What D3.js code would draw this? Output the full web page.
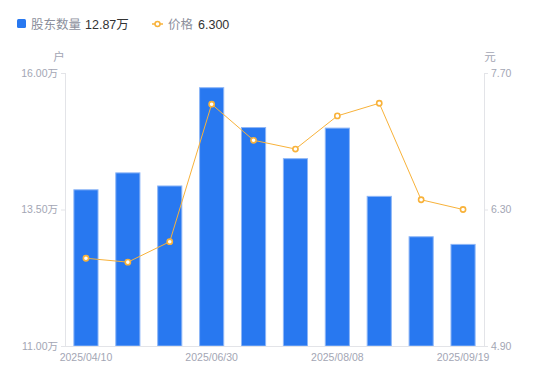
<!DOCTYPE html>
<html>
<head>
<meta charset="utf-8">
<script src="https://cdn.jsdelivr.net/npm/d3@7"></script>
<style>
  body { margin: 0; background: #fff; font-family: "Liberation Sans", "Noto Sans CJK SC", sans-serif; }
  .axis text { fill: #a3a6b4; font-size: 10.5px; font-family: "Liberation Sans", "Noto Sans CJK SC", sans-serif; }
  .axis path, .axis line { stroke: #e3e4e8; }
</style>
</head>
<body>
<div id="chart"></div>
<script>
const dates = ["2025/04/10", "2025/04/30", "2025/05/20", "2025/06/30", "2025/07/10",
               "2025/07/20", "2025/08/08", "2025/08/20", "2025/08/31", "2025/09/19"];
const holders = [13.87, 14.18, 13.94, 15.74, 15.01, 14.44, 15.00, 13.75, 13.01, 12.87]; // 万户
const prices = [5.80, 5.76, 5.97, 7.38, 7.01, 6.92, 7.26, 7.39, 6.40, 6.30];
const leftTicks = [11, 13.5, 16];
const rightTicks = [4.9, 6.3, 7.7];
const shownDates = ["2025/04/10", "2025/06/30", "2025/08/08", "2025/09/19"];

const W = 550, H = 381;
const margin = { top: 73, right: 66, bottom: 35, left: 65 };
const width = W - margin.left - margin.right;
const height = H - margin.top - margin.bottom;

const root = d3.select("#chart").append("svg")
    .attr("width", W)
    .attr("height", H)
    .attr("font-family", "Liberation Sans, Noto Sans CJK SC, sans-serif");

// legend
const legend = root.append("g").attr("font-size", 12.5);
legend.append("rect")
    .attr("x", 17).attr("y", 19).attr("width", 9).attr("height", 9).attr("rx", 1.5)
    .attr("fill", "#2878f0");
legend.append("text").attr("x", 31).attr("y", 28.5).attr("fill", "#8c8f9c").text("股东数量");
legend.append("text").attr("x", 85).attr("y", 28.5).attr("fill", "#333").text(holders[holders.length - 1].toFixed(2) + "万");
legend.append("line")
    .attr("x1", 152).attr("x2", 163).attr("y1", 24).attr("y2", 24)
    .attr("stroke", "#f8b23a").attr("stroke-width", 1.5);
legend.append("circle")
    .attr("cx", 157.5).attr("cy", 24).attr("r", 2.5)
    .attr("fill", "#fff").attr("stroke", "#f8b23a").attr("stroke-width", 1.5);
legend.append("text").attr("x", 168).attr("y", 28.5).attr("fill", "#8c8f9c").text("价格");
legend.append("text").attr("x", 198).attr("y", 28.5).attr("fill", "#333").text(prices[prices.length - 1].toFixed(3));

const svg = root.append("g")
    .attr("transform", `translate(${margin.left},${margin.top})`);

const x = d3.scaleBand()
    .domain(dates)
    .range([0, width])
    .paddingInner(0.4)
    .paddingOuter(0.2);

const yL = d3.scaleLinear().domain([11, 16]).range([height, 0]);
const yR = d3.scaleLinear().domain([4.9, 7.7]).range([height, 0]);

// bars
svg.selectAll(".bar")
    .data(dates)
    .enter()
    .append("rect")
    .attr("class", "bar")
    .attr("x", (d, i) => x(d) + 0.5)
    .attr("y", (d, i) => yL(holders[i]) + 0.5)
    .attr("width", x.bandwidth() - 1)
    .attr("height", (d, i) => height - yL(holders[i]) - 0.5)
    .attr("fill", "#2878f0")
    .attr("stroke", "#8db6f7")
    .attr("stroke-width", 1);

// axes
svg.append("g")
    .attr("class", "axis")
    .attr("transform", `translate(0,${height})`)
    .call(d3.axisBottom(x).tickValues(shownDates).tickSize(0).tickPadding(8))
    .call(g => g.select(".domain").attr("d", `M0,0.5H${width}`));

svg.append("g")
    .attr("class", "axis")
    .call(d3.axisLeft(yL).tickValues(leftTicks).tickSize(4).tickPadding(3)
        .tickFormat(d => d3.format(".2f")(d) + "万"))
    .call(g => g.select(".domain").attr("d", `M0.5,0V${height}`));

svg.append("g")
    .attr("class", "axis")
    .attr("transform", `translate(${width},0)`)
    .call(d3.axisRight(yR).tickValues(rightTicks).tickSize(4).tickPadding(3)
        .tickFormat(d3.format(".2f")))
    .call(g => g.select(".domain").attr("d", `M0.5,0V${height}`));

// unit labels
svg.append("text").attr("x", -6).attr("y", -12).attr("text-anchor", "middle")
    .attr("font-size", 11.5).attr("fill", "#a3a6b4").text("户");
svg.append("text").attr("x", width + 6).attr("y", -12).attr("text-anchor", "middle")
    .attr("font-size", 11.5).attr("fill", "#a3a6b4").text("元");

// price line
const cx = d => x(d) + x.bandwidth() / 2;
const line = d3.line()
    .x((d, i) => cx(dates[i]))
    .y(d => yR(d));

svg.append("path")
    .datum(prices)
    .attr("fill", "none")
    .attr("stroke", "#f8b23a")
    .attr("stroke-width", 1)
    .attr("d", line);

svg.selectAll(".pt")
    .data(prices)
    .enter()
    .append("circle")
    .attr("class", "pt")
    .attr("cx", (d, i) => cx(dates[i]))
    .attr("cy", d => yR(d))
    .attr("r", 2.6)
    .attr("fill", "#fff")
    .attr("stroke", "#f8b23a")
    .attr("stroke-width", 1.6);
</script>
</body>
</html>
